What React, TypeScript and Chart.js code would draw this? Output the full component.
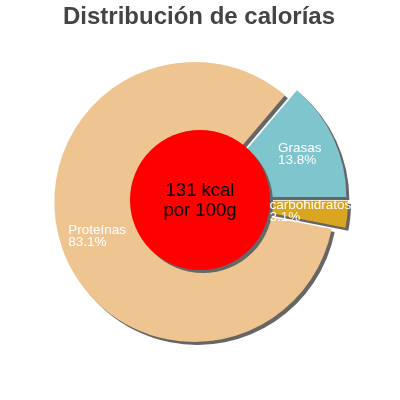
import React, { useEffect, useRef } from 'react';
import { Chart, registerables } from 'chart.js';

Chart.register(...registerables);

// data
const sliceLabels = ['Grasas', 'carbohidratos', 'Proteínas'];
const slicePercents = [13.8, 3.1, 83.1];
const centerLines = ['131 kcal', 'por 100g'];
const chartTitle = 'Distribución de calorías';

// styles
const sliceColors = ['#7EC5CE', '#DAA520', '#EEC591'];
const explode = [7, 8, 6];
const FONT = "'Liberation Sans', Arial, sans-serif";

const decorPlugin = {
    id: 'decor',
    afterDatasetsUpdate(chart: any) {
        // pull every slice out a little along its middle angle
        const meta = chart.getDatasetMeta(0);
        meta.data.forEach((arc: any, i: number) => {
            const mid = (arc.startAngle + arc.endAngle) / 2;
            arc.x += Math.cos(mid) * explode[i];
            arc.y += Math.sin(mid) * explode[i];
        });
    },
    beforeDatasetsDraw(chart: any) {
        const ctx = chart.ctx;
        ctx.save();
        ctx.shadowColor = '#666666';
        ctx.shadowOffsetX = 3;
        ctx.shadowOffsetY = 3;
        ctx.shadowBlur = 0;
    },
    afterDatasetsDraw(chart: any) {
        const ctx = chart.ctx;
        ctx.restore();

        const area = chart.chartArea;
        const cx = (area.left + area.right) / 2;
        const cy = (area.top + area.bottom) / 2;
        const meta = chart.getDatasetMeta(0);
        const outer = meta.data[0].outerRadius;

        // red centre disc
        ctx.save();
        ctx.shadowColor = '#666666';
        ctx.shadowOffsetX = 3;
        ctx.shadowOffsetY = 3;
        ctx.beginPath();
        ctx.arc(cx, cy, outer * 0.5, 0, Math.PI * 2);
        ctx.fillStyle = '#FF0000';
        ctx.fill();
        ctx.restore();

        ctx.save();
        ctx.fillStyle = '#000';
        ctx.textAlign = 'center';
        ctx.textBaseline = 'alphabetic';
        ctx.font = `18.5px ${FONT}`;
        ctx.fillText(centerLines[0], cx, cy - 4.5);
        ctx.fillText(centerLines[1], cx, cy + 16);

        // slice labels
        ctx.font = `13.5px ${FONT}`;
        ctx.fillStyle = '#FFFFFF';
        ctx.textAlign = 'left';
        meta.data.forEach((arc: any, i: number) => {
            const mid = (arc.startAngle + arc.endAngle) / 2;
            const r = arc.outerRadius * 0.735;
            const ax = arc.x + Math.cos(mid) * r;
            const ay = arc.y + Math.sin(mid) * r;
            const lines = [sliceLabels[i], slicePercents[i].toFixed(1) + '%'];
            const w = Math.max(...lines.map(l => ctx.measureText(l).width));
            lines.forEach((l, j) => ctx.fillText(l, ax - w / 2, ay - 1.5 + j * 12));
        });

        // title
        ctx.font = `bold 24px ${FONT}`;
        ctx.fillStyle = '#444444';
        ctx.textAlign = 'center';
        ctx.fillText(chartTitle, cx - 1, 24);
        ctx.restore();
    }
};

const App: React.FC = () => {
    const chartRef = useRef<HTMLCanvasElement | null>(null);

    useEffect(() => {
        if (!chartRef.current) return;
        const ctx = chartRef.current.getContext('2d');
        if (!ctx) return;

        // first slice ends at 3 o'clock
        const rotation = 90 - (slicePercents[0] / 100) * 360;

        const chart = new Chart(ctx, {
            type: 'pie',
            data: {
                labels: sliceLabels,
                datasets: [{
                    data: slicePercents,
                    backgroundColor: sliceColors,
                    borderWidth: 0,
                }]
            },
            options: {
                animation: false,
                responsive: true,
                maintainAspectRatio: false,
                events: [],
                rotation: rotation,
                radius: 140,
                layout: { padding: 0 },
                plugins: {
                    legend: { display: false },
                    tooltip: { enabled: false },
                    title: { display: false },
                }
            } as any,
            plugins: [decorPlugin]
        });

        return () => {
            chart.destroy();
        };
    }, []);

    return (
        <div style={{ position: 'fixed', left: 0, top: 0, width: 400, height: 400, background: '#fff' }}>
            <canvas ref={chartRef}></canvas>
        </div>
    );
};

export default App;
